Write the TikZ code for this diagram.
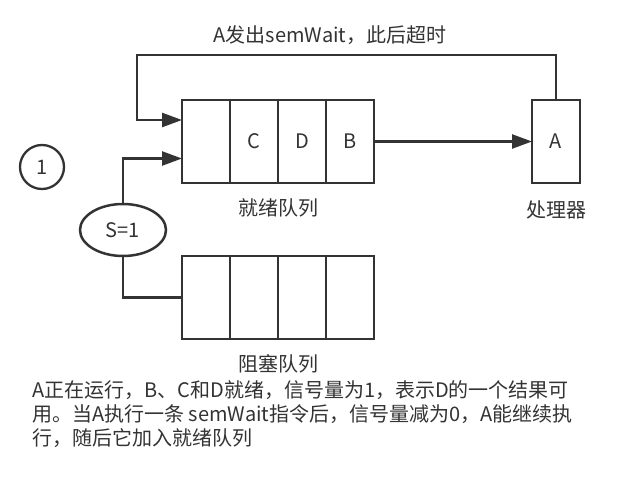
\documentclass[tikz,border=0pt]{standalone}
\usepackage{fontspec}
\setmainfont{Noto Sans CJK SC}
\usetikzlibrary{arrows.meta,positioning,shapes.geometric}
\definecolor{linegray}{HTML}{333333}

\begin{document}
\begin{tikzpicture}[
    x=1pt, y=-1pt,
    cell/.style={rectangle, draw=linegray, line width=2.6pt, minimum width=48pt,
                 minimum height=83pt, inner sep=0pt, outer sep=0pt,
                 text=linegray, font=\fontsize{20}{22}\selectfont},
    conn/.style={draw=linegray, line width=2.5pt},
    arr/.style={conn, -{Triangle[length=20pt,width=14pt]}},
    lbl/.style={text=linegray, font=\fontsize{20}{24}\selectfont},
    sem/.style={ellipse, draw=linegray, line width=2.5pt, minimum width=86pt,
                minimum height=52pt, inner sep=0pt, text=linegray,
                font=\fontsize{20}{22}\selectfont},
    stepno/.style={circle, draw=linegray, line width=2.3pt, minimum size=44pt,
                   inner sep=0pt, text=linegray, font=\fontsize{20}{22}\selectfont}
  ]
  \useasboundingbox (0,0) rectangle (643,484);

  %% Ready queue
  \node[cell] (r1) at (206,141.5) {};
  \node[cell, right=0pt of r1] (r2) {C};
  \node[cell, right=0pt of r2] (r3) {D};
  \node[cell, right=0pt of r3] (r4) {B};
  \node[lbl, below=12pt of r2.south east] (rlab) {就绪队列};

  %% Processor
  \node[cell] (proc) at (556,141.5) {A};
  \node[lbl, below=14pt of proc] (plab) {处理器};

  %% Blocked queue
  \node[cell] (b1) at (206,297.5) {};
  \node[cell, right=0pt of b1] (b2) {};
  \node[cell, right=0pt of b2] (b3) {};
  \node[cell, right=0pt of b3] (b4) {};
  \node[lbl, below=12pt of b2.south east] (blab) {阻塞队列};

  %% Semaphore and step number
  \node[sem] (s) at (123,230) {S=1};
  \node[stepno] (no) at (42,167) {1};

  %% Connectors
  \draw[arr] (r4.east) -- (proc.west);
  \draw[arr] (proc.north) -- ++(0,-45) coordinate (top)
        -| ([xshift=-45pt,yshift=21.5pt]r1.west) -- ([yshift=21.5pt]r1.west);
  \draw[arr] (s.north) |- ([yshift=-17pt]r1.west);
  \draw[conn] (s.south) |- (b1.west);

  %% Texts
  \node[lbl] (title) at (330,35) {A发出semWait，此后超时};
  \node[lbl, align=left, anchor=north west, inner sep=0pt] (desc) at (32,380)
        {A正在运行，B、C和D就绪，信号量为1，表示D的一个结果可\\
         用。当A执行一条 semWait指令后，信号量减为0，A能继续执\\
         行，随后它加入就绪队列};

\end{tikzpicture}
\end{document}
